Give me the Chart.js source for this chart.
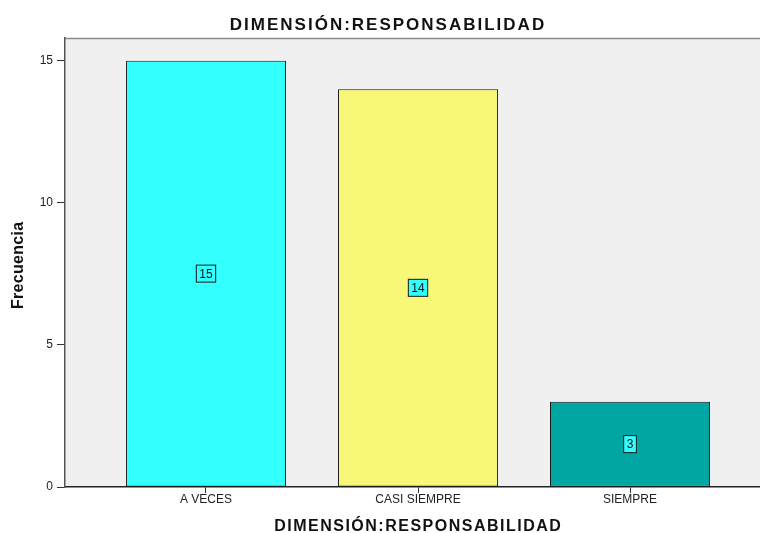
<!DOCTYPE html>
<html>
<head>
<meta charset="utf-8">
<script src="https://cdn.jsdelivr.net/npm/chart.js@4/dist/chart.umd.min.js"></script>
<style>
  body { margin: 0; background: #fff; }
  #wrap { width: 760px; height: 533px; }
</style>
</head>
<body>
<div id="wrap"><canvas id="freqChart"></canvas></div>
<script>
const categories = ['A VECES', 'CASI SIEMPRE', 'SIEMPRE'];
const frequencies = [15, 14, 3];
const barColors = ['#33FFFF', '#F9F777', '#00A6A2'];
const yTicks = [0, 5, 10, 15];

const chartTitle = 'DIMENSIÓN:RESPONSABILIDAD';
const xTitle = 'DIMENSIÓN:RESPONSABILIDAD';
const yTitle = 'Frecuencia';

const font = '"Liberation Sans", Arial, sans-serif';

// grey plot panel with the top frame line
const panel = {
    id: 'panel',
    beforeDraw(chart) {
        const { ctx, chartArea: a } = chart;
        ctx.save();
        ctx.fillStyle = '#F0F0F0';
        ctx.fillRect(a.left, a.top, a.right - a.left, a.bottom - a.top);
        ctx.strokeStyle = '#8a8a8a';
        ctx.lineWidth = 1.5;
        ctx.beginPath();
        ctx.moveTo(a.left, a.top + 0.5);
        ctx.lineTo(a.right, a.top + 0.5);
        ctx.stroke();
        ctx.restore();
    }
};

// spaced-out bold titles (main, x axis, rotated y axis)
function spacedText(ctx, text, x, y, size, spacing, angle) {
    ctx.save();
    ctx.translate(x, y);
    if (angle) ctx.rotate(angle);
    ctx.font = 'bold ' + size + 'px ' + font;
    ctx.letterSpacing = spacing + 'px';
    ctx.fillStyle = '#111';
    ctx.textAlign = 'center';
    ctx.textBaseline = 'middle';
    ctx.fillText(text, spacing / 2, 0);
    ctx.restore();
}

const titles = {
    id: 'titles',
    afterDraw(chart) {
        const { ctx, chartArea: a } = chart;
        spacedText(ctx, chartTitle, chart.width / 2 + 7, 25, 17, 2, 0);
        spacedText(ctx, xTitle, (a.left + a.right) / 2 + 5, 527, 16, 1.5, 0);
        spacedText(ctx, yTitle, 19, (a.top + a.bottom) / 2 + 3, 16, 0.3, -Math.PI / 2);
    }
};

// boxed count in the middle of each bar
const countLabels = {
    id: 'countLabels',
    afterDatasetsDraw(chart) {
        const { ctx } = chart;
        const meta = chart.getDatasetMeta(0);
        ctx.save();
        ctx.font = '12px ' + font;
        ctx.textAlign = 'center';
        ctx.textBaseline = 'middle';
        meta.data.forEach((bar, i) => {
            const text = String(frequencies[i]);
            const cy = (bar.y + bar.base) / 2;
            const w = ctx.measureText(text).width + 6;
            const h = 17;
            ctx.fillStyle = '#33FFFF';
            ctx.fillRect(bar.x - w / 2, cy - h / 2, w, h);
            ctx.strokeStyle = '#1a1a1a';
            ctx.lineWidth = 1;
            ctx.strokeRect(bar.x - w / 2, cy - h / 2, w, h);
            ctx.fillStyle = '#111';
            ctx.fillText(text, bar.x, cy + 1);
        });
        ctx.restore();
    }
};

new Chart(document.getElementById('freqChart'), {
    type: 'bar',
    data: {
        datasets: [{
            data: frequencies.map((v, i) => ({ x: i + 1, y: v })),
            backgroundColor: barColors,
            borderColor: '#1a1a1a',
            borderWidth: 1,
            borderSkipped: false,
            barPercentage: 0.755,
            categoryPercentage: 1
        }]
    },
    options: {
        responsive: true,
        maintainAspectRatio: false,
        animation: false,
        layout: { padding: { top: 38 } },
        plugins: {
            legend: { display: false },
            tooltip: { enabled: false },
            title: { display: false }
        },
        scales: {
            x: {
                type: 'linear',
                offset: false,
                min: 0.335,
                max: 3.613,
                afterBuildTicks: (s) => { s.ticks = categories.map((c, i) => ({ value: i + 1 })); },
                afterFit: (s) => { s.height = 46; },
                ticks: {
                    callback: (v) => categories[v - 1],
                    color: '#222',
                    font: { family: font, size: 12 },
                    padding: -1,
                    maxRotation: 0
                },
                grid: {
                    offset: false,
                    drawOnChartArea: false,
                    drawTicks: true,
                    tickLength: 6,
                    color: '#333'
                },
                border: { color: '#222', width: 1.5 }
            },
            y: {
                min: 0,
                max: 15.8,
                afterBuildTicks: (s) => { s.ticks = yTicks.map(v => ({ value: v })); },
                afterFit: (s) => { s.width = 65; },
                ticks: {
                    color: '#222',
                    font: { family: font, size: 12 },
                    padding: 4
                },
                grid: {
                    drawOnChartArea: false,
                    drawTicks: true,
                    tickLength: 8,
                    color: '#333'
                },
                border: { color: '#555', width: 1.5 }
            }
        }
    },
    plugins: [panel, countLabels, titles]
});
</script>
</body>
</html>
